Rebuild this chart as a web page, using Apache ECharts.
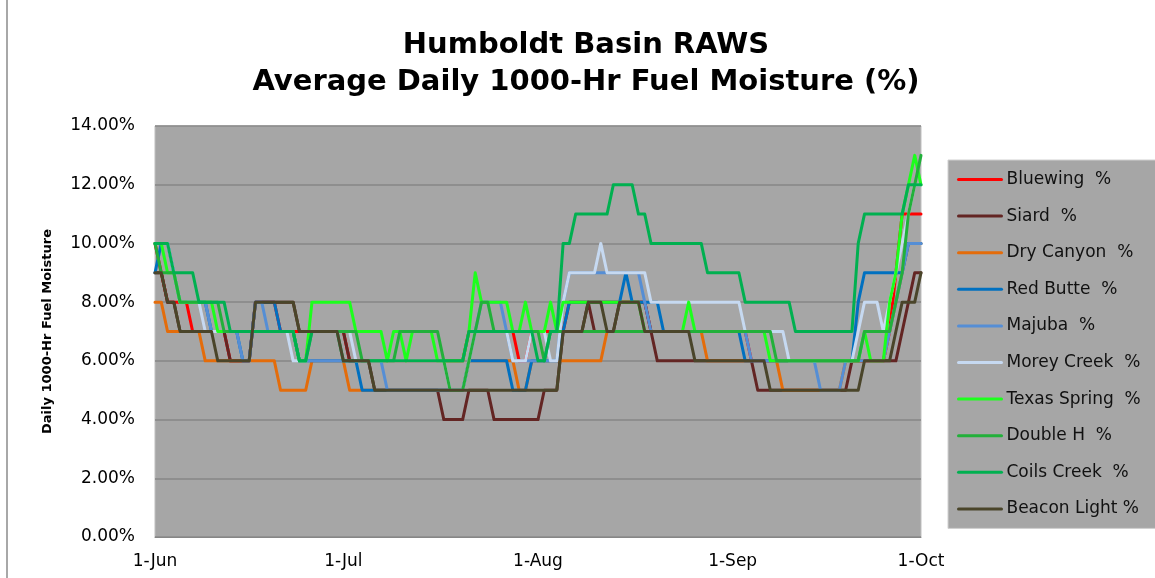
<!DOCTYPE html>
<html>
<head>
<meta charset="utf-8">
<script src="https://cdn.jsdelivr.net/npm/echarts@6/dist/echarts.min.js"></script>
<style>
  html, body { margin: 0; padding: 0; background: #fff; }
  #chart { width: 1155px; height: 578px; }
</style>
</head>
<body>
<div id="chart"></div>
<script>
// 日期 (1-Jun .. 1-Oct)
let months = [['Jun', 30], ['Jul', 31], ['Aug', 31], ['Sep', 30], ['Oct', 1]]
let tickLabels = ['1-Jun', '1-Jul', '1-Aug', '1-Sep', '1-Oct']
let yTicks = [0, 2, 4, 6, 8, 10, 12, 14]

let days = []
months.forEach(m => {
    for (let d = 1; d <= m[1]; d++) days.push(d + '-' + m[0])
})

// 数据 (%), rows: Jun / Jul / Aug / Sep / Oct
let bluewing = [
    10, 9, 8, 8, 8, 8, 7, 7, 7, 7, 7, 7, 6, 6, 6, 6, 8, 8, 8, 8, 7, 7, 7, 7, 7, 7, 7, 7, 7, 7,
    7, 6, 6, 6, 6, 6, 6, 6, 6, 6, 6, 6, 6, 6, 6, 6, 6, 6, 6, 6, 7, 7, 7, 7, 7, 7, 7, 7, 6, 6, 7,
    7, 7, 7, 7, 7, 8, 8, 8, 8, 8, 8, 8, 8, 8, 8, 8, 8, 8, 7, 7, 7, 7, 7, 7, 7, 7, 7, 7, 7, 7, 7,
    7, 7, 7, 6, 6, 6, 6, 6, 6, 6, 6, 6, 6, 6, 6, 6, 6, 6, 6, 6, 6, 6, 6, 6, 6, 7, 9, 11, 11, 11,
    11
]
let siard = [
    9, 9, 8, 8, 7, 7, 7, 7, 7, 7, 7, 7, 6, 6, 6, 6, 8, 8, 8, 8, 8, 8, 8, 7, 7, 7, 7, 7, 7, 7,
    7, 6, 6, 6, 6, 5, 5, 5, 5, 5, 5, 5, 5, 5, 5, 5, 4, 4, 4, 4, 5, 5, 5, 5, 4, 4, 4, 4, 4, 4, 4,
    4, 5, 5, 5, 7, 7, 7, 7, 8, 7, 7, 7, 7, 8, 8, 8, 8, 8, 7, 6, 6, 6, 6, 6, 6, 6, 6, 6, 6, 6, 6,
    6, 6, 6, 6, 5, 5, 5, 5, 5, 5, 5, 5, 5, 5, 5, 5, 5, 5, 5, 6, 6, 6, 6, 6, 6, 6, 6, 7, 8, 9,
    9
]
let dryCanyon = [
    8, 8, 7, 7, 7, 7, 7, 7, 6, 6, 6, 6, 6, 6, 6, 6, 6, 6, 6, 6, 5, 5, 5, 5, 5, 6, 6, 6, 6, 6,
    6, 5, 5, 5, 5, 5, 5, 5, 5, 5, 5, 5, 5, 5, 5, 5, 5, 5, 5, 5, 6, 6, 6, 6, 6, 6, 6, 6, 5, 5, 6,
    6, 6, 6, 6, 6, 6, 6, 6, 6, 6, 6, 7, 7, 7, 7, 7, 7, 7, 7, 7, 7, 7, 7, 7, 7, 7, 7, 6, 6, 6, 6,
    6, 6, 6, 6, 6, 6, 6, 6, 5, 5, 5, 5, 5, 5, 5, 5, 5, 5, 6, 6, 6, 6, 6, 6, 6, 7, 8, 9, 10, 10,
    10
]
let redButte = [
    9, 10, 10, 9, 8, 8, 8, 8, 8, 7, 7, 7, 7, 7, 6, 6, 8, 8, 8, 8, 7, 7, 7, 6, 6, 6, 6, 6, 6, 6,
    6, 6, 6, 5, 5, 5, 5, 5, 5, 5, 5, 5, 5, 5, 5, 5, 5, 5, 5, 5, 6, 6, 6, 6, 6, 6, 6, 5, 5, 5, 6,
    6, 6, 6, 6, 7, 8, 8, 8, 8, 8, 8, 8, 8, 8, 9, 8, 8, 8, 8, 8, 7, 7, 7, 7, 7, 7, 7, 7, 7, 7, 7,
    7, 7, 6, 6, 6, 6, 6, 6, 6, 6, 6, 6, 6, 6, 6, 6, 6, 6, 6, 6, 8, 9, 9, 9, 9, 9, 9, 9, 10, 10,
    10
]
let majuba = [
    10, 10, 10, 9, 8, 8, 8, 8, 8, 7, 7, 7, 7, 7, 6, 6, 8, 8, 7, 7, 7, 7, 7, 6, 6, 6, 6, 6, 6, 6,
    6, 6, 6, 6, 6, 6, 6, 5, 5, 5, 5, 5, 5, 5, 5, 5, 5, 5, 5, 5, 6, 7, 8, 8, 8, 8, 7, 6, 6, 6, 6,
    6, 6, 6, 6, 8, 9, 9, 9, 9, 9, 9, 9, 9, 9, 9, 9, 9, 8, 7, 7, 7, 7, 7, 7, 7, 7, 7, 7, 7, 7, 7,
    7, 7, 7, 6, 6, 6, 6, 6, 6, 6, 6, 6, 6, 6, 5, 5, 5, 5, 6, 6, 6, 6, 6, 6, 6, 7, 8, 9, 10, 10,
    10
]
let moreyCreek = [
    10, 10, 10, 9, 8, 8, 8, 8, 7, 7, 7, 7, 7, 7, 7, 7, 7, 7, 7, 7, 7, 7, 6, 6, 6, 7, 7, 7, 7, 7,
    7, 7, 6, 6, 6, 6, 6, 6, 6, 6, 6, 6, 6, 6, 6, 6, 6, 5, 5, 5, 6, 7, 7, 7, 7, 7, 7, 6, 6, 6, 7,
    7, 7, 6, 6, 8, 9, 9, 9, 9, 9, 10, 9, 9, 9, 9, 9, 9, 9, 8, 8, 8, 8, 8, 8, 8, 8, 8, 8, 8, 8, 8,
    8, 8, 7, 7, 7, 7, 7, 7, 7, 6, 6, 6, 6, 6, 6, 6, 6, 6, 6, 6, 7, 8, 8, 8, 7, 8, 9, 10, 11, 12,
    12
]
let texasSpring = [
    10, 10, 9, 9, 8, 8, 8, 8, 8, 8, 7, 7, 7, 7, 7, 7, 7, 7, 7, 7, 7, 7, 7, 6, 6, 8, 8, 8, 8, 8,
    8, 8, 7, 7, 7, 7, 7, 6, 7, 7, 6, 7, 7, 7, 7, 6, 6, 6, 6, 6, 7, 9, 8, 8, 8, 8, 8, 7, 7, 8, 7,
    7, 7, 8, 7, 8, 8, 8, 8, 8, 8, 8, 8, 8, 8, 8, 8, 8, 7, 7, 7, 7, 7, 7, 7, 8, 7, 7, 7, 7, 7, 7,
    7, 7, 7, 7, 7, 7, 6, 6, 6, 6, 6, 6, 6, 6, 6, 6, 6, 6, 6, 6, 6, 7, 6, 6, 6, 8, 9, 11, 12, 13,
    12
]
let doubleH = [
    10, 9, 9, 9, 8, 8, 8, 8, 8, 8, 8, 7, 7, 7, 7, 7, 7, 7, 7, 7, 7, 7, 7, 6, 6, 7, 7, 7, 7, 7,
    7, 7, 7, 6, 6, 6, 6, 6, 6, 7, 7, 7, 7, 7, 7, 7, 6, 5, 5, 5, 6, 7, 8, 8, 7, 7, 7, 7, 7, 7, 7,
    7, 6, 7, 7, 7, 7, 7, 7, 7, 7, 7, 7, 7, 7, 7, 7, 7, 7, 7, 7, 7, 7, 7, 7, 7, 7, 7, 7, 7, 7, 7,
    7, 7, 7, 7, 7, 7, 7, 6, 6, 6, 6, 6, 6, 6, 6, 6, 6, 6, 6, 6, 6, 7, 7, 7, 7, 7, 8, 9, 11, 12,
    13
]
let coilsCreek = [
    10, 10, 10, 9, 9, 9, 9, 8, 8, 8, 8, 8, 7, 7, 7, 7, 7, 7, 7, 7, 7, 7, 7, 6, 6, 7, 7, 7, 7, 7,
    6, 6, 6, 6, 6, 6, 6, 6, 6, 6, 6, 6, 6, 6, 6, 6, 6, 6, 6, 6, 7, 7, 7, 7, 7, 7, 7, 7, 7, 7, 7,
    6, 6, 7, 7, 10, 10, 11, 11, 11, 11, 11, 11, 12, 12, 12, 12, 11, 11, 10, 10, 10, 10, 10, 10, 10, 10, 10, 9, 9, 9, 9,
    9, 9, 8, 8, 8, 8, 8, 8, 8, 8, 7, 7, 7, 7, 7, 7, 7, 7, 7, 7, 10, 11, 11, 11, 11, 11, 11, 11, 12, 12,
    12
]
let beaconLight = [
    9, 9, 8, 8, 7, 7, 7, 7, 7, 7, 6, 6, 6, 6, 6, 6, 8, 8, 8, 8, 8, 8, 8, 7, 7, 7, 7, 7, 7, 7,
    6, 6, 6, 6, 6, 5, 5, 5, 5, 5, 5, 5, 5, 5, 5, 5, 5, 5, 5, 5, 5, 5, 5, 5, 5, 5, 5, 5, 5, 5, 5,
    5, 5, 5, 5, 7, 7, 7, 7, 8, 8, 8, 7, 7, 8, 8, 8, 8, 7, 7, 7, 7, 7, 7, 7, 7, 6, 6, 6, 6, 6, 6,
    6, 6, 6, 6, 6, 6, 5, 5, 5, 5, 5, 5, 5, 5, 5, 5, 5, 5, 5, 5, 5, 6, 6, 6, 6, 6, 7, 8, 8, 8,
    9
]

let seriesList = [
    ['Bluewing  %', bluewing, '#FF0000'],
    ['Siard  %', siard, '#632523'],
    ['Dry Canyon  %', dryCanyon, '#E46C0A'],
    ['Red Butte  %', redButte, '#0070C0'],
    ['Majuba  %', majuba, '#558ED5'],
    ['Morey Creek  %', moreyCreek, '#C6D9F1'],
    ['Texas Spring  %', texasSpring, '#1CFF1C'],
    ['Double H  %', doubleH, '#22B03A'],
    ['Coils Creek  %', coilsCreek, '#00B050'],
    ['Beacon Light %', beaconLight, '#4A452A']
]

let font = 'DejaVu Sans'
let chart = echarts.init(document.getElementById('chart'))
let option = {
    backgroundColor: '#fff',
    animation: false,
    title: {
        text: 'Humboldt Basin RAWS\nAverage Daily 1000-Hr Fuel Moisture (%)',
        left: 586,
        textAlign: 'center',
        top: 27,
        padding: 0,
        textStyle: {
            fontFamily: font,
            fontWeight: 'bold',
            fontSize: 29,
            lineHeight: 37,
            color: '#000'
        }
    },
    graphic: [{
        type: 'rect',
        shape: { x: 7, y: -10, width: 1200, height: 600 },
        style: { fill: 'none', stroke: '#8c8c8c', lineWidth: 1.5 },
        silent: true
    }],
    legend: {
        orient: 'vertical',
        left: 948,
        top: 160,
        padding: [11, 40, 11, 9],
        itemWidth: 43,
        itemHeight: 14,
        itemGap: 19.6,
        backgroundColor: '#A6A6A6',
        borderColor: '#D0D0D0',
        borderWidth: 1,
        itemStyle: { opacity: 0 },
        lineStyle: { width: 3 },
        textStyle: { fontFamily: font, fontSize: 17, color: '#111' },
        data: seriesList.map(s => s[0])
    },
    grid: {
        left: 155,
        top: 126,
        width: 766,
        height: 411,
        show: true,
        backgroundColor: '#A6A6A6',
        borderColor: '#BFBFBF',
        borderWidth: 1
    },
    xAxis: {
        type: 'category',
        data: days,
        boundaryGap: false,
        axisLine: { show: true, lineStyle: { color: '#868686' } },
        axisTick: { show: false },
        axisLabel: {
            interval: (i, v) => tickLabels.includes(v),
            fontFamily: font,
            fontSize: 17,
            color: '#000',
            margin: 16
        },
        splitLine: { show: false }
    },
    yAxis: {
        type: 'value',
        min: yTicks[0],
        max: yTicks[yTicks.length - 1],
        interval: 2,
        name: 'Daily 1000-Hr Fuel Moisture',
        nameLocation: 'middle',
        nameRotate: 90,
        nameGap: 101,
        nameTextStyle: { fontFamily: font, fontWeight: 'bold', fontSize: 13, color: '#000' },
        axisLine: { show: false },
        axisTick: { show: false },
        axisLabel: {
            formatter: v => v.toFixed(2) + '%',
            fontFamily: font,
            fontSize: 17,
            color: '#000',
            margin: 20
        },
        splitLine: { lineStyle: { color: '#868686', width: 1.5 } }
    },
    series: seriesList.map(s => ({
        name: s[0],
        type: 'line',
        data: s[1],
        symbol: 'none',
        color: s[2],
        lineStyle: { width: 3, color: s[2], cap: 'round', join: 'round' }
    }))
}
chart.setOption(option)
</script>
</body>
</html>
